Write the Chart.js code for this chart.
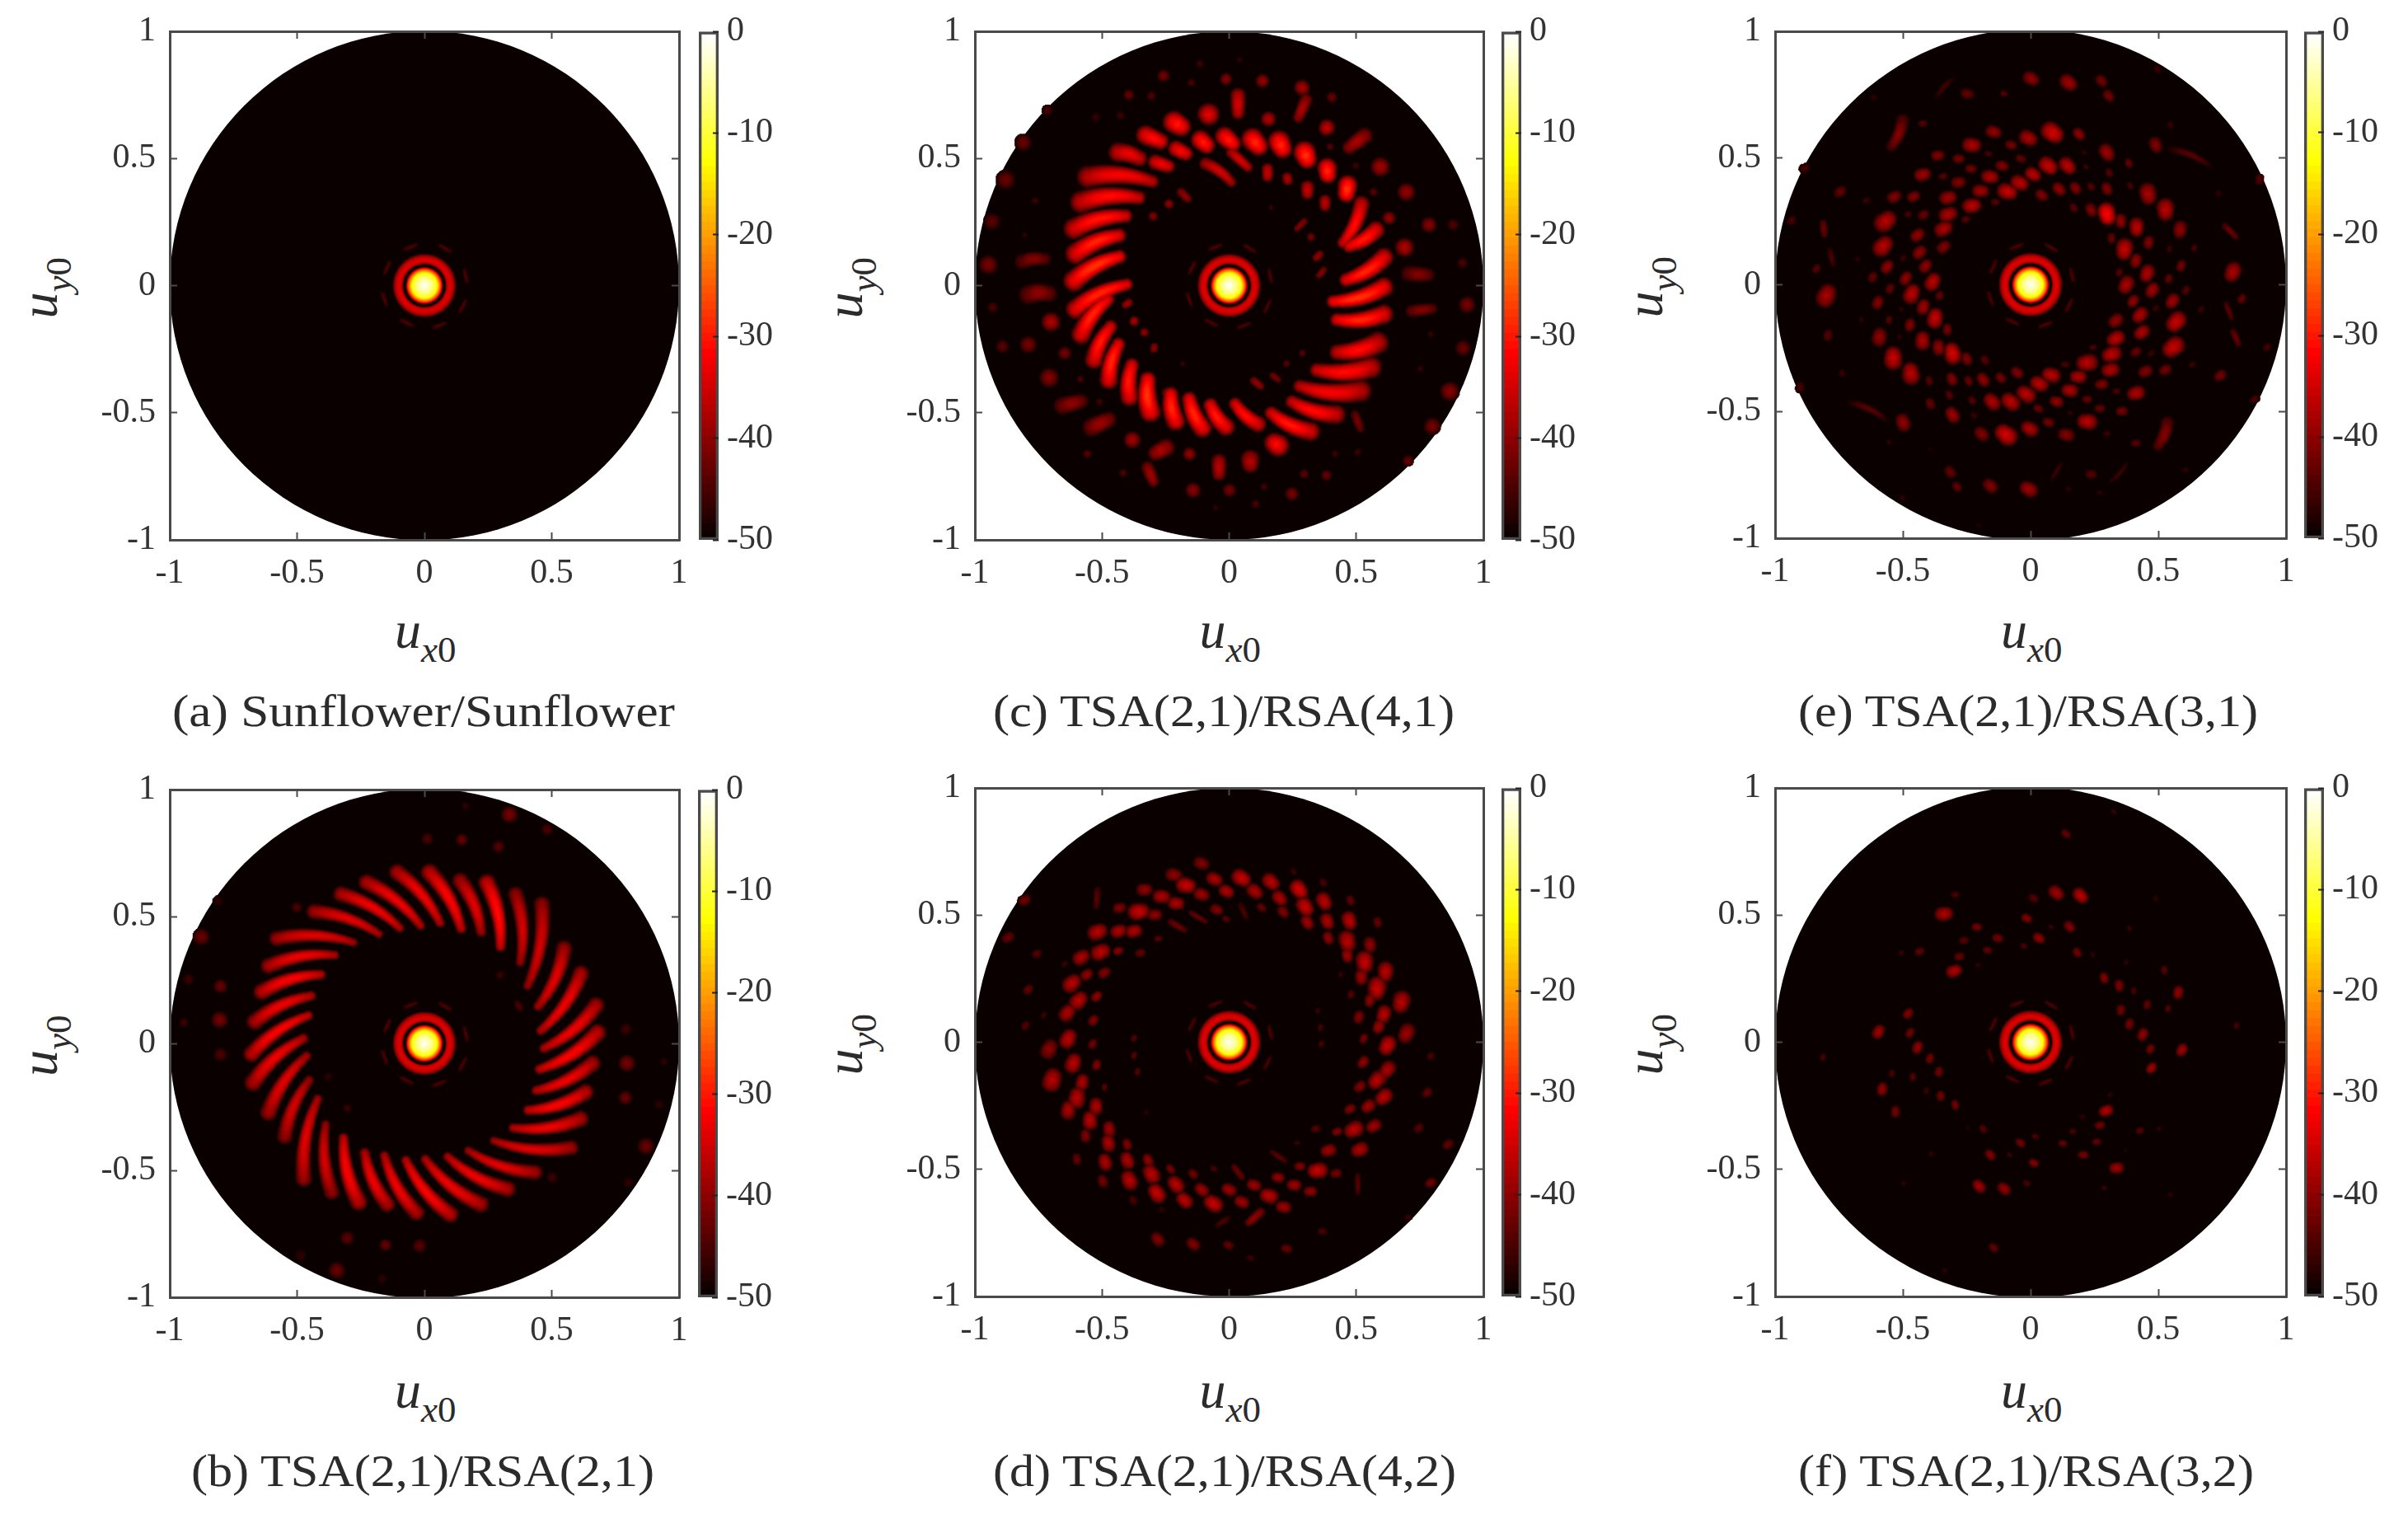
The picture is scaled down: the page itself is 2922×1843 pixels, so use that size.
<!DOCTYPE html>
<html><head><meta charset="utf-8">
<script src="https://cdn.jsdelivr.net/npm/chart.js@4"></script>
<style>
html,body{margin:0;padding:0;background:#fff;width:2922px;height:1843px;overflow:hidden}
canvas{position:absolute;display:block}
svg{position:absolute;left:0;top:0}
text{font-family:"Liberation Serif",serif;fill:#2b2b2b}
</style></head><body>
<svg id="labels" width="2922" height="1843"></svg>
<script>
/* ---------- values (u, v in direction cosines, level in dB) ---------- */
const axisTicks=[-1,-0.5,0,0.5,1];
const colorbarTicks=[-50,-40,-30,-20,-10,0];
const captions=["(a) Sunflower/Sunflower","(b) TSA(2,1)/RSA(2,1)","(c) TSA(2,1)/RSA(4,1)","(d) TSA(2,1)/RSA(4,2)","(e) TSA(2,1)/RSA(3,1)","(f) TSA(2,1)/RSA(3,2)"];
/* main lobe radial cut: radius and level */
const mainLobeRadius=[0,.032,.049,.058,.067,.0745,.081,.085,.09,.1,.11,.12,.126];
const mainLobeDb=[0,-7,-13,-21,-31,-50,-50,-43,-36,-34,-36,-42,-50];
/* lobes: [u,v,dB,halfWidth] or [u1,v1,u2,v2,dB,halfWidth] */
const ringArcs=[[-.08,.141,-.028,.161,-45,.009],[.105,.132,.057,.16,-45,.009],[-.134,.095,-.158,.045,-45,.009],[-.166,-.028,-.148,-.08,-45,.009],[.168,.011,.156,.065,-45,.009],[.138,-.106,.164,-.056,-45,.009],[-.095,-.134,-.045,-.158,-45,.009],[.033,-.167,.085,-.147,-45,.009]];
const lobesA=[];
const lobesB=[
[.475,.563,.413,.209,-35,.03],[.563,.386,.447,.127,-34,.03],[.632,.284,.454,.031,-33,.03],[.693,.154,.461,-.037,-33,.031],[.7,.045,.441,-.119,-32,.032],[.679,-.078,.427,-.2,-33,.03],[.652,-.194,.393,-.276,-32,.03],[.632,-.303,.332,-.344,-33,.03],[.591,-.422,.256,-.392,-34,.028],[.447,-.521,.154,-.426,-34,.028],[.338,-.589,.072,-.446,-33,.03],[.229,-.651,-.016,-.453,-33,.031],[.106,-.692,-.091,-.453,-32,.031],[-.03,-.685,-.173,-.432,-33,.03],[-.146,-.651,-.248,-.419,-33,.03],[-.262,-.644,-.33,-.357,-32,.032],[-.371,-.603,-.398,-.303,-35,.029],[-.487,-.548,-.426,-.2,-34,.03],[-.562,-.378,-.453,-.126,-35,.029],[-.63,-.282,-.46,-.03,-34,.031],[-.692,-.16,-.467,.038,-33,.032],[-.698,-.044,-.446,.127,-32,.03],[-.685,.086,-.432,.202,-33,.03],[-.658,.206,-.392,.284,-32,.03],[-.63,.311,-.337,.359,-33,.029],[-.596,.424,-.262,.407,-34,.028],[-.446,.533,-.16,.434,-34,.028],[-.337,.604,-.078,.454,-33,.029],[-.235,.652,.004,.461,-33,.03],[-.112,.693,.079,.468,-33,.03],[.018,.693,.161,.441,-32,.032],[.141,.659,.236,.427,-34,.03],[.25,.652,.311,.366,-31,.032],[.366,.604,.386,.304,-35,.029],
[.334,.902,-42,.03],[.482,.843,-45,.022],[.291,.775,-44,.022],[.147,.802,-43,.022],[.011,.806,-45,.022],[.161,.935,-47,.015],[-.876,.42,-43,.03],[-.801,.225,-43,.025],[-.804,.093,-42,.03],[-.801,-.044,-45,.025],[-.926,.252,-46,.02],[-.944,.082,-46,.018],[-.81,.561,-47,.02],[.795,-.078,-42,.03],[.789,-.214,-43,.025],[.791,.056,-46,.022],[.87,-.405,-43,.03],[.921,-.241,-47,.018],[.941,-.071,-47,.015],[.802,-.548,-47,.02],[-.303,-.767,-44,.025],[-.153,-.794,-43,.022],[-.019,-.797,-44,.025],[-.344,-.894,-43,.03],[-.487,-.835,-47,.022],[-.166,-.926,-47,.018],[.502,-.528,-46,.02],[-.501,.536,-45,.02],[.38,.13,.36,.165,-45,.014],[.297,.27,-46,.016],[-.303,-.255,-46,.016],[-.378,-.132,-47,.016]
];
const lobesC=[
[-.456,.532,-.333,.498,-33,.035],[-.347,.6,-.251,.559,-31,.035],[-.237,.655,-.169,.614,-30,.04],[-.224,.546,-.156,.512,-32,.03],[-.128,.587,-.074,.539,-30,.035],[-.033,.6,.029,.546,-30,.035],[.076,.593,.131,.532,-29,.04],[.186,.587,.22,.518,-29,.04],[.288,.546,.315,.477,-28,.04],[.383,.484,.39,.416,-29,.035],[.469,.416,.458,.341,-28,.035],[.533,.334,.445,.15,-31,.03],[.595,.225,.458,.143,-30,.032],[.629,.116,.445,.007,-29,.035],[.629,-.007,.39,-.075,-28,.035],[.629,-.116,.404,-.143,-29,.035],[.608,-.225,.404,-.273,-31,.04],[.581,-.327,.322,-.341,-31,.04],[.54,-.423,.254,-.402,-32,.04],[.438,-.518,.226,-.457,-31,.035],[.336,-.587,.145,-.498,-30,.035],[.213,-.641,.158,-.607,-31,.04],[.124,-.559,.008,-.457,-31,.03],[-.005,-.573,-.087,-.457,-30,.033],[-.101,-.58,-.169,-.43,-29,.035],[-.21,-.553,-.237,-.409,-29,.035],[-.312,-.518,-.326,-.348,-28,.038],[-.398,-.457,-.385,-.293,-30,.033],[-.483,-.389,-.435,-.211,-29,.033],[-.544,-.307,-.462,-.143,-30,.033],[-.599,-.205,-.469,-.034,-29,.035],[-.626,-.095,-.387,.02,-29,.035],[-.633,.014,-.415,.13,-28,.038],[-.626,.123,-.415,.211,-29,.038],[-.633,.225,-.387,.286,-30,.038],[-.606,.334,-.333,.355,-31,.04],[-.578,.437,-.278,.416,-32,.04],
[-.306,.491,-.224,.464,-33,.028],[-.101,.491,.022,.402,-35,.024],[.001,.532,.083,.457,-35,.022],[.151,.471,.151,.416,-36,.022],[.226,.437,.233,.402,-38,.02],[.308,.402,.308,.348,-36,.025],[.377,.348,.377,.3,-37,.022],[-.196,.375,-.156,.334,-40,.018],[-.237,.321,-40,.018],[-.299,.273,-41,.018],[.302,.259,.261,.218,-41,.014],[.322,.191,-42,.016],[.363,.13,.336,.102,-40,.016],[.377,.068,.349,.034,-41,.014],[-.387,-.061,-.415,-.082,-39,.016],[-.367,-.13,-.381,-.15,-38,.018],[-.333,-.184,-40,.017],[-.292,-.232,-.299,-.259,-40,.015],[-.387,-.334,-.381,-.362,-37,.022],[-.319,-.382,-38,.024],[-.244,-.423,-40,.02],[.288,-.266,-44,.014],[.226,-.307,-44,.014],[.165,-.348,.199,-.375,-42,.014],[.09,-.368,.131,-.402,-40,.016],[-.183,-.307,-46,.01],[.165,.307,-46,.01],
[-.087,.696,-.074,.648,-33,.04],[.035,.764,.035,.662,-35,.028],[.145,.668,.165,.641,-37,.028],[.308,.744,.267,.648,-38,.024],[.274,.791,.301,.764,-38,.028],[.397,.634,.37,.607,-36,.03],[.547,.6,.458,.532,-38,.03],[.608,.477,.581,.457,-39,.035],[.697,.368,-40,.032],[.629,.266,-40,.024],[.786,.239,-41,.028],[.69,.15,-38,.034],[.69,.048,.799,.041,-41,.03],[.704,-.102,.813,-.089,-41,.024],[.131,.805,-40,.025],[-.012,.812,-41,.022],[-.258,.825,-42,.022],[-.149,.798,-45,.015],[-.115,.873,-46,.016],[.042,.887,-47,.012],[-.394,.75,-43,.02],[-.306,.746,-45,.018],[.404,.741,-43,.02],[-.524,.662,-46,.016],[-.428,.668,-46,.016],[-.81,.563,-43,.03],[-.879,.416,-43,.034],[-.933,.252,-44,.03],[-.947,.082,-42,.034],[-.831,.095,-.708,.109,-41,.028],[-.81,-.034,-.688,-.027,-40,.036],[-.701,-.143,-38,.034],[-.79,-.232,-42,.03],[-.892,-.239,-44,.024],[-.93,-.086,-45,.02],[-.647,-.266,-42,.024],[-.708,-.362,-41,.034],[-.674,-.477,-.565,-.45,-40,.032],[-.558,-.566,-.456,-.518,-39,.034],[-.558,-.662,-44,.016],[-.381,-.607,-39,.03],[-.231,-.628,-.306,-.668,-38,.032],[-.326,-.703,-.292,-.784,-39,.024],[-.156,-.662,-40,.024],[-.04,-.675,-.04,-.757,-37,.028],[.083,-.662,.083,-.723,-37,.034],[-.142,-.805,-41,.028],[.001,-.805,-42,.024],[.138,-.791,-46,.015],[.247,-.819,-42,.025],[.104,-.859,-45,.016],[-.053,-.873,-47,.012],[-.417,-.737,-45,.016],[.295,-.741,-44,.018],[.383,-.746,-43,.02],[.417,-.662,-46,.014],[.506,-.655,-46,.014],[.799,-.553,-42,.03],[.868,-.416,-41,.034],[.92,-.246,-43,.028],[.936,-.075,-42,.03],[.918,.089,-45,.02],[.881,.239,-45,.022],[.704,-.689,-43,.02],[.492,-.498,.52,-.573,-42,.018],[.793,-.191,-46,.012],[.752,-.327,-46,.012],[-.715,.689,-45,.02],[-.763,.334,-46,.014],[-.804,.198,-47,.012],[-.585,-.368,-45,.014],[-.51,-.457,-46,.014],[.499,.471,-46,.014],[.568,.368,-44,.016],[.397,.546,-44,.014]
];
const lobesD=[
[-.217,.658,-40,.025],[-.169,.617,-36,.03],[-.108,.703,-41,.024],[-.057,.641,-38,.025],[.049,.645,-36,.03],[.165,.63,-37,.028],[.101,.593,-38,.026],[-.01,.593,-38,.024],[-.108,.581,-39,.024],[.275,.6,-35,.03],[.199,.566,-38,.025],[.37,.628,-45,.014],[.254,.671,-46,.012],[-.332,.6,-40,.024],[-.265,.573,-38,.026],[-.208,.546,-38,.025],[.299,.532,-36,.03],[.374,.553,-37,.028],[.477,.557,-43,.016],[-.431,.528,-41,.02],[-.355,.514,-36,.032],[-.292,.501,-40,.022],[-.049,.521,-41,.02],[-.012,.484,-44,.013],[.042,.546,.07,.484,-45,.012],[.128,.529,-43,.016],[.213,.512,-41,.02],[-.156,.512,-.087,.471,-43,.012],[.308,.471,-39,.023],[.386,.475,-38,.025],[.473,.477,-37,.028],[.584,.471,-43,.017],[-.237,.477,-.169,.437,-43,.015],[-.517,.607,-.524,.525,-44,.014],[-.517,.434,-37,.03],[-.434,.437,-38,.025],[-.374,.437,-38,.025],[.39,.409,-40,.02],[.465,.396,-37,.032],[.554,.382,-40,.024],[-.278,.407,-44,.013],[-.505,.355,-37,.03],[-.436,.359,-41,.016],[-.349,.351,-43,.016],[-.581,.334,-38,.027],[.465,.341,-39,.022],[.533,.314,-36,.033],[.615,.276,-37,.03],[-.756,.348,-44,.016],[-.647,.307,-46,.012],[-.56,.266,-40,.02],[-.491,.273,-41,.02],[-.618,.232,-37,.03],[.52,.256,-39,.024],[.581,.211,-36,.035],[.438,.266,-46,.01],[.479,.188,-44,.014],[-.592,.164,-37,.03],[-.521,.18,-40,.018],[.677,.157,-37,.033],[.553,.164,-40,.02],[-.636,.116,-38,.028],[-.534,.086,-41,.018],[.608,.109,-37,.027],[.51,.098,-41,.02],[.588,.061,-39,.022],[.697,.034,-39,.03],[-.633,.014,-37,.03],[.529,.014,-42,.016],[.622,-.014,-36,.03],[-.708,-.027,-40,.03],[-.537,-.007,-42,.016],[.527,-.079,-40,.02],[-.613,-.082,-37,.03],[-.521,-.089,-41,.017],[.622,-.109,-38,.028],[-.696,-.147,-37,.035],[-.578,-.157,-38,.025],[.581,-.15,-37,.03],[.514,-.175,-41,.02],[-.49,-.177,-44,.012],[-.599,-.218,-37,.032],[.608,-.216,-37,.028],[-.633,-.266,-38,.028],[.547,-.252,-39,.023],[.475,-.263,-41,.018],[-.524,-.252,-38,.026],[-.548,-.307,-37,.028],[.568,-.33,-39,.024],[.49,-.344,-37,.03],[.424,-.352,-41,.016],[-.565,-.368,-41,.02],[-.472,-.341,-39,.024],[-.475,-.396,-38,.026],[-.401,-.402,-41,.018],[.34,-.341,-44,.015],[-.488,-.471,-38,.026],[-.401,-.464,-38,.026],[-.599,-.46,-43,.018],[-.319,-.464,-40,.02],[.513,-.423,-38,.027],[.39,-.426,-39,.024],[.745,-.338,-44,.017],[.861,-.402,-43,.018],[.779,-.198,-43,.017],[.793,-.055,-45,.014],[.793,-.553,-42,.018],[.347,-.505,-36,.03],[.278,-.488,-41,.017],[.42,-.516,-42,.018],[-.497,-.546,-42,.02],[-.393,-.542,-37,.03],[-.306,-.518,-37,.03],[-.231,-.498,-42,.016],[-.142,-.518,-42,.017],[.015,-.484,.056,-.539,-43,.014],[-.06,-.498,-45,.012],[.165,-.43,.226,-.471,-44,.012],[.267,-.396,-46,.01],[.192,-.532,-40,.02],[.255,-.562,-39,.022],[.097,-.562,-39,.022],[-.001,-.58,-39,.023],[-.108,-.58,-39,.023],[-.21,-.559,-37,.028],[-.285,-.593,-36,.03],[-.378,-.621,-45,.015],[-.176,-.621,-37,.027],[-.063,-.634,-36,.03],[.049,-.628,-39,.023],[.156,-.604,-37,.028],[.213,-.648,-39,.023],[.319,-.587,-40,.02],[.131,-.662,.07,-.716,-40,.018],[.001,-.689,-.053,-.723,-45,.012],[-.265,-.659,-47,.012],[-.281,-.775,-41,.023],[-.142,-.794,-41,.022],[-.003,-.798,-43,.017],[.226,-.812,-43,.018],[.366,-.744,-45,.015],[.083,-.849,-46,.013],[.506,-.518,.506,-.6,-44,.012],[-.804,.559,-42,.02],[-.869,.412,-43,.02],[-.79,.207,-43,.017],[-.801,.065,-44,.015],[-.729,.106,-46,.012],[-.374,.016,-44,.012],[-.374,-.052,-44,.012],[-.36,-.116,-44,.012],[.349,.123,-46,.01],[.359,.057,-45,.012],[.363,-.007,-45,.012],[-.326,-.276,-47,.01],[.704,-.689,-46,.012]
];
const lobesE=[
[.087,.599,-35,.035],[.19,.594,-40,.02],[-.008,.578,-38,.028],[-.144,.603,-40,.024],[-.229,.551,-38,.028],[-.076,.551,-42,.018],[-.363,.51,-41,.02],[-.281,.497,-42,.018],[-.165,.517,-45,.012],[-.038,.497,-43,.016],[.07,.469,-36,.03],[.145,.469,-37,.028],[.01,.435,-37,.025],[-.111,.469,-41,.02],[-.233,.458,-42,.017],[-.422,.435,-39,.025],[-.342,.428,-44,.014],[-.158,.426,-38,.026],[-.282,.404,-41,.022],[-.042,.401,-37,.028],[-.09,.367,-36,.03],[-.195,.37,-39,.025],[-.533,.347,-41,.022],[-.458,.348,-41,.02],[-.322,.344,-39,.026],[-.138,.326,-44,.014],[-.229,.312,-37,.028],[-.567,.251,-37,.035],[-.48,.278,-45,.012],[-.419,.276,-43,.018],[-.322,.278,-38,.028],[-.254,.258,-44,.014],[-.34,.221,-38,.028],[-.442,.196,-40,.023],[-.577,.153,-37,.033],[-.34,.149,-41,.022],[-.434,.128,-40,.023],[-.561,.071,-40,.022],[-.499,.105,-46,.012],[-.411,.074,-40,.022],[-.618,.03,-43,.017],[-.488,.026,-40,.022],[-.383,.012,-37,.028],[-.55,-.015,-43,.016],[-.465,-.035,-37,.03],[-.356,-.042,-43,.015],[-.598,-.07,-41,.021],[-.42,-.087,-39,.024],[-.506,-.097,-47,.01],[-.374,-.131,-36,.03],[-.554,-.138,-44,.013],[-.472,-.158,-41,.02],[-.326,-.176,-42,.018],[-.592,-.206,-40,.028],[-.423,-.22,-38,.028],[-.513,-.206,-47,.01],[-.36,-.247,-40,.024],[-.306,-.27,-35,.032],[-.25,-.292,-41,.02],[-.538,-.288,-36,.034],[-.469,-.349,-37,.033],[-.179,-.297,-44,.016],[-.397,-.379,-44,.015],[-.308,-.372,-41,.02],[-.243,-.379,-43,.016],[-.186,-.374,-40,.022],[-.117,-.367,-42,.018],[-.053,-.347,-41,.02],[.08,-.356,-37,.028],[.033,-.39,-37,.028],[-.018,-.431,-37,.03],[-.079,-.461,-37,.03],[-.151,-.461,-38,.028],[-.229,-.456,-44,.014],[-.318,-.435,-44,.015],[-.393,-.469,-43,.018],[-.306,-.513,-39,.025],[-.222,-.516,-46,.012],[-.192,-.588,-41,.024],[-.097,-.591,-35,.035],[-.004,-.568,-38,.027],[.139,-.592,-41,.025],[.07,-.543,-42,.018],[.03,-.488,-43,.016],[.101,-.461,-40,.021],[.153,-.417,-38,.025],[.221,-.452,-43,.015],[.221,-.54,-37,.03],[.299,-.588,-46,.012],[.271,-.488,-43,.016],[.357,-.499,-42,.018],[.156,-.506,-47,.01],[.186,-.363,-38,.025],[.135,-.315,-45,.013],[.22,-.308,-37,.032],[.278,-.393,-41,.02],[.336,-.42,-45,.013],[.412,-.428,-38,.027],[.312,-.336,-38,.027],[.449,-.342,-41,.022],[.527,-.336,-42,.02],[.317,-.274,-37,.03],[.412,-.265,-43,.018],[.472,-.27,-46,.012],[.244,-.247,-45,.012],[.558,-.247,-36,.035],[.333,-.213,-37,.028],[.435,-.188,-38,.025],[.333,-.142,-40,.024],[.428,-.12,-38,.026],[.569,-.147,-36,.033],[.401,-.065,-40,.02],[.49,-.093,-46,.012],[.555,-.065,-39,.024],[.608,-.022,-44,.015],[.476,-.022,-39,.024],[.374,-.001,-38,.028],[.347,.049,-44,.014],[.456,.044,-38,.027],[.54,.023,-43,.015],[.589,.074,-42,.018],[.412,.094,-40,.022],[.544,.142,-46,.012],[.367,.139,-36,.032],[.462,.166,-41,.02],[.317,.183,-43,.016],[.415,.226,-37,.028],[.585,.217,-40,.026],[.353,.251,-40,.022],[.299,.278,-32,.033],[.528,.295,-37,.033],[.237,.295,-41,.021],[.169,.303,-44,.015],[.46,.357,-38,.032],[.299,.378,-41,.02],[.237,.387,-44,.014],[.176,.381,-41,.02],[.112,.377,-40,.022],[.044,.353,-41,.02],[.39,.39,-45,.012],[.308,.442,-44,.014],[.385,.479,-43,.015],[.299,.521,-39,.027],[.217,.465,-46,.01],[.21,.521,-47,.01],
[.003,.813,-40,.025],[.149,.797,-39,.028],[.278,.804,-42,.02],[.306,.745,-42,.02],[-.247,.753,-43,.02],[-.104,.754,-44,.012],[-.377,.735,-.295,.824,-46,.012],[-.492,.66,-.547,.531,-41,.025],[-.422,.636,-44,.014],[-.613,.739,-47,.012],[-.745,.367,-43,.02],[-.643,.333,-46,.013],[-.936,.254,-45,.016],[-.813,.251,-.806,.19,-43,.015],[-.787,.142,-.772,.074,-45,.012],[-.838,.064,-44,.015],[-.799,-.042,-38,.035],[-.677,.101,-47,.01],[-.663,-.138,-47,.01],[-.793,-.199,-44,.018],[-.738,-.349,-46,.012],[-.902,-.404,-45,.017],[-.884,.46,-45,.017],[.49,.551,-41,.024],[.538,.544,.715,.469,-44,.015],[.548,.63,-46,.012],[.497,.851,-46,.014],[.735,.36,-47,.012],[.756,.237,.81,.183,-43,.014],[.64,.145,-45,.012],[.791,.049,-38,.03],[.827,-.056,-43,.016],[.763,-.07,.79,-.138,-44,.012],[.79,-.179,.817,-.24,-43,.014],[.667,-.097,-46,.012],[.926,-.247,-45,.014],[.742,-.359,-42,.02],[.633,-.315,-46,.012],[.896,.415,-44,.016],[.544,-.533,.497,-.649,-41,.025],[.412,-.625,-44,.015],[.387,-.697,.306,-.786,-46,.01],[.237,-.748,-44,.018],[.606,-.731,-47,.012],[.876,-.452,-45,.016],[-.008,-.806,-39,.028],[-.158,-.793,-41,.024],[-.288,-.797,-43,.017],[-.315,-.738,-43,.02],[.121,-.704,.08,-.772,-46,.01],[.149,-.806,-47,.01],[.271,-.82,-47,.01],[-.499,-.543,-40,.027],[-.711,-.458,-.554,-.533,-44,.015],[-.393,-.649,-48,.01],[-.554,-.622,-47,.01],[-.202,-.95,-48,.012],[-.502,-.84,-47,.012]
];
const lobesF=[
[.101,.587,-39,.025],[.196,.576,-37,.025],[.012,.566,-44,.016],[-.295,.58,-45,.014],[-.338,.505,-38,.027],[-.21,.453,-42,.016],[-.015,.487,-41,.017],[.153,.454,-41,.019],[.08,.453,-46,.01],[-.128,.409,-42,.017],[.033,.409,-40,.019],[-.026,.378,-45,.012],[-.261,.4,-44,.015],[-.434,.357,-43,.015],[-.169,.362,-43,.014],[-.278,.337,-43,.016],[-.506,.351,-46,.01],[.183,.352,-42,.016],[.244,.344,-47,.01],[-.299,.28,-38,.024],[-.206,.303,-47,.01],[.288,.252,-41,.017],[.347,.222,-41,.018],[.404,.202,-45,.012],[.524,.284,-44,.014],[.578,.195,-40,.02],[.456,.147,-43,.015],[.538,.132,-44,.012],[.353,.126,-42,.017],[.387,.071,-42,.018],[.439,.03,-40,.02],[.469,-.027,-42,.016],[.592,-.031,-39,.02],[.473,-.102,-39,.018],[-.479,.113,-41,.018],[-.595,.041,-39,.022],[-.472,.037,-42,.016],[-.442,-.02,-40,.02],[-.394,-.064,-42,.016],[-.359,-.116,-42,.016],[-.543,-.123,-45,.012],[-.461,-.136,-44,.013],[-.581,-.184,-40,.02],[-.408,-.191,-46,.012],[-.352,-.211,-42,.016],[-.295,-.246,-42,.016],[-.529,-.273,-42,.018],[.295,-.27,-38,.022],[.203,-.293,-47,.01],[.312,-.207,-47,.01],[.271,-.327,-42,.016],[.165,-.351,-45,.012],[-.186,-.341,-44,.014],[-.247,-.337,-48,.01],[.428,-.348,-44,.013],[.503,-.341,-47,.01],[.258,-.392,-43,.014],[.126,-.398,-43,.014],[.019,-.371,-45,.012],[-.04,-.396,-42,.016],[-.158,-.443,-41,.018],[-.083,-.443,-46,.01],[.012,-.475,-41,.016],[.206,-.443,-42,.016],[.336,-.495,-39,.022],[.371,-.426,-48,.01],[-.202,-.566,-39,.022],[-.104,-.576,-40,.022],[-.015,-.555,-45,.013],[.289,-.573,-46,.01],[.548,-.6,-47,.01],[-.497,-.555,-47,.01],[-.39,-.439,-47,.01],[-.145,-.808,-43,.016],[-.042,-.782,-49,.01],[-.336,-.898,-47,.01],[.139,.819,-43,.016],[.326,.907,-46,.01],[.49,.566,-47,.01],[.387,.447,-46,.01],[.806,.065,-45,.012],[-.813,-.059,-45,.012],[.033,.789,-49,.01],[.374,.314,-47,.01]
];

/* ---------- layout ---------- */
const panels=[
 {lobes:lobesA,cap:0,L:206,T:38,W:618,H:617,cb:848,capL:209,capW:610,capY:881,labY:786,round:true},
 {lobes:lobesB,cap:1,L:206,T:958,W:618,H:616,cb:847,capL:232,capW:562,capY:1803,labY:1708,round:true},
 {lobes:lobesC,cap:2,L:1183,T:38,W:617,H:617,cb:1822,capL:1205,capW:560,capY:881,labY:786,round:true},
 {lobes:lobesD,cap:3,L:1183,T:956,W:617,H:617,cb:1822,capL:1205,capW:562,capY:1803,labY:1708},
 {lobes:lobesE,cap:4,L:2154,T:38,W:620,H:615,cb:2796,capL:2182,capW:558,capY:881,labY:786},
 {lobes:lobesF,cap:5,L:2154,T:956,W:620,H:617,cb:2796,capL:2182,capW:553,capY:1803,labY:1708}
];
const FONT='"Liberation Serif"', TICK_SIZE=42, TICK_COLOR='#333', EDGE='#4a4a4a';

/* ---------- MATLAB hot(64) ---------- */
function hotLevel(i){const n=i+1;return [Math.min(1,n/24),Math.max(0,Math.min(1,(n-24)/24)),Math.max(0,Math.min(1,(n-48)/16))].map(c=>Math.round(c*255));}
function hot(db){const t=Math.max(0,Math.min(.9999,(db+50)/50));return hotLevel(Math.floor(t*64));}
const cssHot=i=>{const c=hotLevel(i);return `rgb(${c[0]},${c[1]},${c[2]})`;};

/* ---------- sprites ---------- */
function blank(w,h){const c=document.createElement('canvas');c.width=w;c.height=h;return c;}
function lobeSprite(p,scale){
 const W=p.w*1.22*scale, L=Math.max(0,p.len/2-p.w*.6)*scale, B=p.len>.12?.13*L:0;
 const cw=Math.ceil(2*(L+W))+4, ch=Math.ceil(2*(W+B))+4, c=blank(cw,ch), g=c.getContext('2d'), im=g.createImageData(cw,ch);
 const taper=Math.min(.4,p.len/.3*.4), drop=Math.min(5,p.len/.2*5);
 for(let j=0;j<ch;j++)for(let i=0;i<cw;i++){
  const dx=i+.5-cw/2, dy=j+.5-ch/2, s=Math.max(-L,Math.min(L,dx)), t=L>0?(s+L)/(2*L):.5;
  const yc=L>0?B/2-B*(1-(s/L)*(s/L)):0;
  const peak=p.db-drop*(2*t-1)*(2*t-1), wl=W*(1-taper*t), d=Math.hypot(dx-s,dy-yc)/wl, v=peak-(peak+50)*d*d;
  if(v>-49.6){const col=hot(v),k=(j*cw+i)*4;im.data[k]=col[0];im.data[k+1]=col[1];im.data[k+2]=col[2];im.data[k+3]=255;}
 }
 g.putImageData(im,0,0);return c;
}
function mainSprite(scale){
 const R=Math.ceil(mainLobeRadius[mainLobeRadius.length-1]*scale)+2, s=2*R, c=blank(s,s), g=c.getContext('2d'), im=g.createImageData(s,s);
 for(let j=0;j<s;j++)for(let i=0;i<s;i++){
  const r=Math.hypot(i+.5-R,j+.5-R)/scale; let v=-50;
  for(let q=0;q<mainLobeRadius.length-1;q++){if(r>=mainLobeRadius[q]&&r<mainLobeRadius[q+1]){const f=(r-mainLobeRadius[q])/(mainLobeRadius[q+1]-mainLobeRadius[q]);v=mainLobeDb[q]+f*(mainLobeDb[q+1]-mainLobeDb[q]);}}
  if(v>-49.6){const col=hot(v),k=(j*s+i)*4;im.data[k]=col[0];im.data[k+1]=col[1];im.data[k+2]=col[2];im.data[k+3]=255;}
 }
 g.putImageData(im,0,0);return c;
}
/* a short entry is a single lobe; in the grating panels it leans along the spiral */
const SPIRAL_LEAN=62*Math.PI/180;
function toPoints(list,round){return list.map(b=>{
 let a=b;
 if(b.length===4){
  const u=b[0],v=b[1],r=Math.hypot(u,v)||1; let du=0,dv=0;
  if(!round){const iu=-u/r,iv=-v/r,c=Math.cos(SPIRAL_LEAN),s=Math.sin(SPIRAL_LEAN),h=b[3]*.95;du=(iu*c-iv*s)*h;dv=(iu*s+iv*c)*h;}
  a=[u-du,v-dv,u+du,v+dv,b[2],b[3]];
 }
 return {x:(a[0]+a[2])/2,y:(a[1]+a[3])/2,len:Math.hypot(a[2]-a[0],a[3]-a[1]),rot:Math.atan2(-(a[3]-a[1]),a[2]-a[0])*180/Math.PI,db:a[4],w:a[5]};});}
const unit=chart=>{if(!chart.chartArea||!(chart.chartArea.width>0))return 0;const s=chart.scales.x;const u=s.getPixelForValue(1)-s.getPixelForValue(0);return u>0?u:0;};
const noOverflow=s=>{s.paddingTop=0;s.paddingBottom=0;s.paddingLeft=0;s.paddingRight=0;};

/* ---------- plugin: lobes merge like a field maximum ---------- */
const fieldBlend={id:'fieldBlend',
 beforeDatasetDraw(chart,args){if(chart.data.datasets[args.index].field)chart.ctx.globalCompositeOperation='lighten';},
 afterDatasetDraw(chart){chart.ctx.globalCompositeOperation='source-over';}};

function edgeAxis(pos){
 return {type:'linear',position:pos,min:-1,max:1,afterFit:s=>{if(s.isHorizontal())s.height=0;else s.width=0;noOverflow(s);},
  afterBuildTicks:s=>{s.ticks=axisTicks.map(value=>({value}));},
  ticks:{display:false},border:{color:EDGE,width:3,z:1},grid:{drawOnChartArea:false,drawTicks:true,tickLength:-9,tickWidth:2,tickColor:EDGE,z:1}};
}
function labelAxis(pos,pad,size){
 const ax=edgeAxis(pos);
 ax.afterFit=s=>{if(s.isHorizontal())s.height=size;else s.width=size;noOverflow(s);};
 ax.ticks={display:true,padding:pad,autoSkip:false,maxRotation:0,minRotation:0,color:TICK_COLOR,font:{family:FONT,size:TICK_SIZE},callback:v=>String(v)};
 return ax;
}

const PADL=130,PADT=30,PADR=30,PADB=70,CBW=24,CBR=90;
panels.forEach((p)=>{
 const c=document.createElement('canvas');
 c.style.left=(p.L-PADL)+'px';c.style.top=(p.T-PADT)+'px';
 c.style.width=(p.W+PADL+PADR)+'px';c.style.height=(p.H+PADT+PADB)+'px';
 c.width=p.W+PADL+PADR;c.height=p.H+PADT+PADB;
 document.body.appendChild(c);
 const spriteOf=(ctx,make)=>{const r=ctx.raw,u=unit(ctx.chart);if(!r||!u)return 'circle';return r.sprite||(r.sprite=make(r,u));};
 new Chart(c,{type:'scatter',plugins:[fieldBlend],
  data:{datasets:[
   {label:'lobes',field:true,order:1,data:toPoints(p.lobes,p.round).concat(toPoints(ringArcs,true)),
    pointStyle:ctx=>spriteOf(ctx,lobeSprite),
    rotation:ctx=>ctx.raw?ctx.raw.rot:0},
   {label:'main lobe',field:true,order:1,data:[{x:0,y:0}],
    pointStyle:ctx=>spriteOf(ctx,(r,u)=>mainSprite(u))},
   {label:'visible region',order:2,data:[{x:0,y:0}],pointStyle:'circle',
    pointRadius:ctx=>unit(ctx.chart)||3,pointBackgroundColor:cssHot(0),pointBorderWidth:0}
  ]},
  options:{responsive:false,animation:false,devicePixelRatio:1,events:[],
   layout:{padding:{left:0,top:PADT,right:PADR,bottom:0}},
   plugins:{legend:{display:false},tooltip:{enabled:false},title:{display:false}},
   scales:{
    x:labelAxis('bottom',25,PADB),
    y:labelAxis('left',26,PADL),
    xTop:edgeAxis('top'),
    yRight:edgeAxis('right')
   }}
 });

 /* colour bar: one floating bar per colormap level */
 const b=document.createElement('canvas');
 b.style.left=p.cb+'px';b.style.top=(p.T-PADT)+'px';
 b.style.width=(CBW+CBR)+'px';b.style.height=(p.H+2*PADT)+'px';
 b.width=CBW+CBR;b.height=p.H+2*PADT;
 document.body.appendChild(b);
 const bands=[];
 for(let i=0;i<64;i++){bands.push({data:[[-50+i*50/64-(i?0.08:0),-50+(i+1)*50/64]],backgroundColor:cssHot(i),borderWidth:0,order:1});}
 bands.push({data:[[-50,0]],backgroundColor:'rgba(0,0,0,0)',borderColor:EDGE,borderWidth:3,borderSkipped:false,order:0});
 new Chart(b,{type:'bar',
  data:{labels:['dB'],datasets:bands},
  options:{responsive:false,animation:false,devicePixelRatio:1,events:[],
   datasets:{bar:{grouped:false,barPercentage:1,categoryPercentage:1}},
   layout:{padding:{left:0,top:PADT,right:0,bottom:PADT}},
   plugins:{legend:{display:false},tooltip:{enabled:false}},
   scales:{
    x:{display:false},
    y:{position:'right',min:-50,max:0,afterFit:s=>{s.width=CBR;noOverflow(s);},
     afterBuildTicks:s=>{s.ticks=colorbarTicks.map(value=>({value}));},
     border:{display:false},
     grid:{drawOnChartArea:false,drawTicks:true,tickLength:-7,tickWidth:2,tickColor:'#222',z:1},
     ticks:{padding:17,color:TICK_COLOR,autoSkip:false,font:{family:FONT,size:TICK_SIZE},callback:v=>String(v)}}
   }}
 });
});

/* ---------- axis labels and captions as real text ---------- */
const NS='http://www.w3.org/2000/svg', svg=document.getElementById('labels');
function axisLabel(first,x,y,rotate){
 const t=document.createElementNS(NS,'text');t.setAttribute('x',x);t.setAttribute('y',y);
 if(rotate)t.setAttribute('transform',`rotate(-90 ${x} ${y})`);
 const mk=(s,size,style,dy)=>{const e=document.createElementNS(NS,'tspan');e.textContent=s;e.setAttribute('font-size',size);e.setAttribute('font-style',style);if(dy)e.setAttribute('dy',dy);t.appendChild(e);};
 mk('u',64,'italic');mk(first,45,'italic',17);mk('0',45,'normal');svg.appendChild(t);
}
panels.forEach(p=>{
 axisLabel('x',p.L+p.W/2-36,p.labY,false);
 axisLabel('y',p.L-137,p.T+p.H/2+40,true);
 const t=document.createElementNS(NS,'text');t.textContent=captions[p.cap];
 t.setAttribute('x',p.capL);t.setAttribute('y',p.capY);t.setAttribute('font-size',55);
 t.setAttribute('textLength',p.capW);t.setAttribute('lengthAdjust','spacingAndGlyphs');svg.appendChild(t);
});
</script>
</body></html>
